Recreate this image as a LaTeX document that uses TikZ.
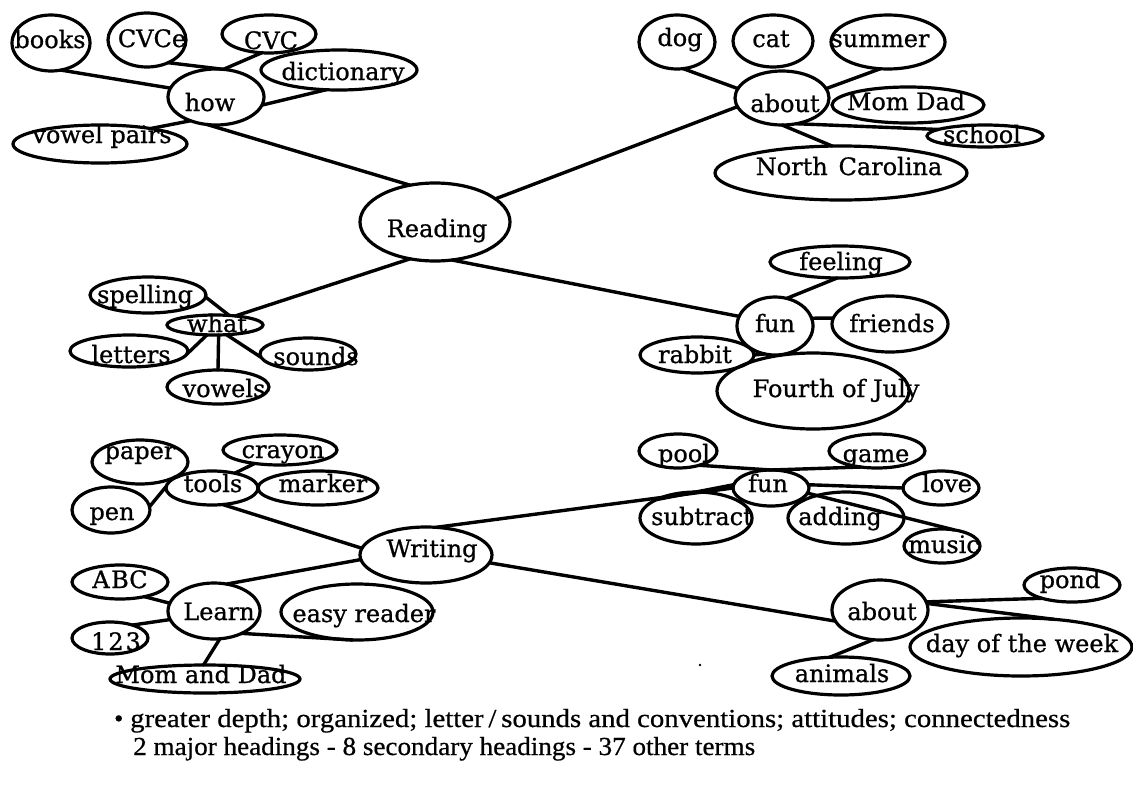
\documentclass[tikz,border=0pt]{standalone}
\usepackage{fontspec}
\usepackage{graphicx}
\usetikzlibrary{shapes.geometric}
\newfontfamily\dfont[FakeBold=0.8]{DejaVu Serif}
\newfontfamily\tfont[FakeBold=0.6]{Liberation Serif}
\newcommand\lb[3]{\smash{\makebox[0pt]{\kern#1\kern#1\raisebox{#2}{#3}}}}
\newcommand\ovn[8]{\node[ov, minimum width=2*#4pt, minimum height=2*#5pt] (#1) at (#2,#3) {\lb{#6pt}{#7pt}{#8}};}
\tikzset{
  ov/.style={draw, ellipse, line width=3.2pt, inner sep=0pt, outer sep=0pt,
    font=\dfont\fontsize{24}{24}\selectfont},
  ln/.style={line width=3.4pt, line cap=round},
  note/.style={inner sep=0pt, anchor=base west, font=\tfont\fontsize{26}{26}\selectfont}
}
\begin{document}
\begin{tikzpicture}[x=1pt,y=-1pt]
\useasboundingbox (0,0) rectangle (1133,785);
% Reading, how
\ovn{books}{51}{43}{39}{28}{-1}{-5}{books}
\ovn{cvce}{147}{40}{39}{27}{5}{-7}{CVCe}
\ovn{cvc}{269}{34}{47}{19}{2}{-15}{CVC}
\ovn{dict}{339}{70}{78}{20}{4}{-10}{dictionary}
\ovn{how}{216}{97}{48}{28}{-6}{-14}{how}
\ovn{vpairs}{100}{144}{87}{19}{2}{1}{vowel pairs}
% about
\ovn{dog}{677}{42}{38}{27}{3}{-4}{dog}
\ovn{cat}{773}{41}{40}{26}{-2}{-6}{cat}
\ovn{summer}{888}{42}{57}{27}{-8}{-5}{summer}
\ovn{about}{782}{98}{47}{27}{3}{-14}{about}
\ovn{momdad}{908}{105}{76}{18}{-2}{-5}{Mom Dad}
\ovn{school}{985}{136}{58}{11}{-3}{-7}{school}
\ovn{nc}{841}{173}{126}{27}{8}{-2}{North\hspace{0.45em}Carolina}
\ovn{reading}{435}{222}{75}{39}{2}{-15}{Reading}
% what
\ovn{spelling}{148}{295}{58}{18}{-3}{-8}{spelling}
\ovn{what}{215}{325}{48}{10}{2}{-7}{what}
\ovn{letters}{129}{351}{59}{16}{2}{-12}{letters}
\ovn{sounds}{308}{354}{48}{16}{8}{-11}{sounds}
\ovn{vowels}{218}{387}{51}{17}{6}{-10}{vowels}
% fun
\ovn{feeling}{840}{262}{70}{16}{1}{-8}{feeling}
\ovn{fun}{775}{326}{38}{29}{0}{-6}{fun}
\ovn{friends}{890}{324}{58}{28}{2}{-8}{friends}
\ovn{rabbit}{697}{355}{57}{18}{-2}{-8}{rabbit}
\ovn{fourth}{813}{391}{96}{38}{23}{-6}{Fourth of July}
% tools
\ovn{paper}{140}{462}{48}{22}{0}{3}{paper}
\ovn{crayon}{280}{450}{57}{15}{3}{-8}{crayon}
\ovn{tools}{212}{488}{46}{17}{1}{-4}{tools}
\ovn{marker}{318}{488}{60}{17}{5}{-4}{marker}
\ovn{pen}{111}{510}{39}{23}{1}{-10}{pen}
\ovn{writing}{426}{555}{66}{28}{6}{-2}{Writing}
% fun 2
\ovn{pool}{678}{451}{39}{17}{6}{-11}{pool}
\ovn{game}{877}{451}{48}{17}{-1}{-11}{game}
\ovn{funb}{771}{488}{38}{18}{-3}{-4}{fun}
\ovn{love}{941}{488}{38}{17}{6}{-4}{love}
\ovn{subtract}{696}{518}{56}{26}{6}{-7}{subtract}
\ovn{adding}{846}{518}{58}{26}{-6}{-7}{adding}
\ovn{music}{942}{546}{38}{17}{2}{-7}{music}
% Learn
\ovn{abc}{120}{582}{48}{17}{0}{-6}{A\kern1.5pt BC}
\ovn{learn}{214}{611}{46}{28}{5}{-9}{Learn}
\ovn{easy}{357}{612}{76}{28}{7}{-10}{easy reader}
\ovn{ott}{110}{638}{38}{16}{6}{-12}{1\kern2pt 2\kern2pt 3}
\ovn{mad}{205}{679}{95}{14}{-4}{-4}{Mom and Dad}
% about 2
\ovn{aboutb}{880}{610}{48}{30}{2}{-10}{about}
\ovn{pond}{1072}{585}{48}{17}{-2}{-3}{pond}
\ovn{dotw}{1021}{647}{111}{29}{1}{-5}{day of the week}
\ovn{animals}{841}{676}{69}{19}{1}{-6}{animals}
% connectors
\draw[ln] (books.290) -- (how.169);
\draw[ln] (cvce.313) -- (how.75);
\draw[ln] (cvc.249) -- (how.75);
\draw[ln] (how.350) -- (dict.237);
\draw[ln] (how.223) -- (vpairs.17);
\draw[ln] (how.252) -- (reading.124);
\draw[ln] (about.191) -- (reading.21);
\draw[ln] (dog.283) -- (about.168);
\draw[ln] (summer.254) -- (about.12);
\draw[ln] (about.299) -- (school.172);
\draw[ln] (about.270) -- (nc.108);
\draw[ln] (reading.236) -- (what.24);
\draw[ln] (reading.294) -- (fun.165);
\draw[ln] (spelling.358) -- (what.34);
\draw[ln] (what.231) -- (letters.-3);
\draw[ln] (what.320) -- (sounds.184);
\draw[ln] (what.290) -- (vowels.90);
\draw[ln] (feeling.260) -- (fun.67);
\draw[ln] (fun.12) -- (friends.174);
\draw[ln] (rabbit.0) -- (fun.250);
\draw[ln] (paper.-25) -- (tools.160);
\draw[ln] (crayon.208) -- (tools.33);
\draw[ln] (pen.5) -- (tools.178);
\draw[ln] (tools.303) -- (writing.174);
\draw[ln] (writing.70) -- (funb.180);
\draw[ln] (writing.353) -- (aboutb.194);
\draw[ln] (writing.184) -- (learn.65);
\draw[ln] (pool.326) -- (funb.90);
\draw[ln] (funb.90) -- (game.225);
\draw[ln] (funb.5) -- (love.180);
\draw[ln] (funb.-8) -- (music.53);
\draw[ln] (funb.175) -- (subtract.155);
\draw[ln] (aboutb.10) -- (pond.204);
\draw[ln] (aboutb.8) -- (dotw.40);
\draw[ln] (aboutb.257) -- (animals.121);
\draw[ln] (abc.329) -- (learn.170);
\draw[ln] (ott.30) -- (learn.191);
\draw[ln] (learn.282) -- (mad.96);
\draw[ln] (learn.321) -- (easy.261);
\fill (700,665) circle (1.3pt);
% notes
\node[note] (bul) at (114,727) {\textbullet};
\node[note] (n1) at (130,727) {\resizebox{940pt}{\height}{greater depth; organized; letter\,/\,sounds and conventions; attitudes; connectedness}};
\node[note] (n2) at (133,755) {\resizebox{622pt}{\height}{2 major headings - 8 secondary headings - 37 other terms}};
\end{tikzpicture}
\end{document}
